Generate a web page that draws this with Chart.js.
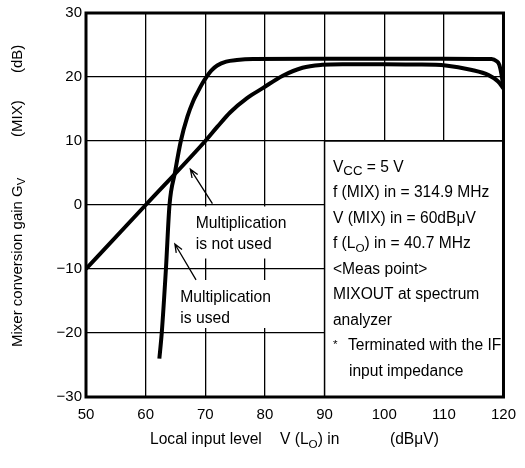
<!DOCTYPE html>
<html>
<head>
<meta charset="utf-8">
<script src="https://cdn.jsdelivr.net/npm/chart.js@4.4.1/dist/chart.umd.min.js"></script>
<style>
  body { margin: 0; background: #fff; }
  #wrap { width: 525px; height: 468px; }
</style>
</head>
<body>
<div id="wrap"><canvas id="mixChart" width="525" height="468"></canvas></div>
<script>
// eixos
const xTicks = [50, 60, 70, 80, 90, 100, 110, 120];
const yTicks = [-30, -20, -10, 0, 10, 20, 30];

// curva "Multiplication is used"
const usedX = [62.3, 62.7, 63.4, 64.0, 64.9, 65.9, 67.0, 68.0, 68.7, 69.5, 70.2, 71.0, 72.0, 73.5, 75.3, 78.0, 90.0, 100.0, 110.0, 118.0, 118.8, 119.3, 119.7, 120.0];
const usedY = [-24.0, -20.0, -10.0, 0.0, 5.0, 10.0, 13.8, 16.3, 17.6, 19.0, 20.0, 21.0, 21.8, 22.4, 22.65, 22.8, 22.85, 22.85, 22.85, 22.8, 22.5, 21.9, 20.2, 18.2];

// curva "Multiplication is not used"
const notUsedX = [50, 60, 70, 72, 74.2, 77, 79.7, 83, 86.3, 89.6, 93, 100, 105, 110.3, 114.7, 117.5, 119.1, 120];
const notUsedY = [-10, 0, 10, 12.2, 14.5, 16.7, 18.3, 20.2, 21.45, 21.9, 22.0, 22.0, 21.95, 21.8, 21.1, 20.3, 19.3, 18.2];

// textos da caixa de condições
const condLines = [
    [{ t: 'V' }, { t: 'CC', sub: 0.85, dy: 3 }, { t: ' = 5 V' }],
    [{ t: 'f (MIX) in = 314.9 MHz' }],
    [{ t: 'V (MIX) in = 60dB\u03BCV' }],
    [{ t: 'f (L' }, { t: 'O', sub: 0.75, dy: 4 }, { t: ') in = 40.7 MHz' }],
    [{ t: '<Meas point>' }],
    [{ t: 'MIXOUT at spectrum' }],
    [{ t: 'analyzer' }],
    [{ t: '*', sub: 0.75, dy: -2 }, { t: 'Terminated with the IF', dx: 15 }],
    [{ t: 'input impedance', dx: 16 }]
];

const FONTE = "'Liberation Sans', Arial, Helvetica, sans-serif";

function pontos(xs, ys) {
    return xs.map((x, i) => ({ x: x, y: ys[i] }));
}

function textoRico(ctx, x, y, partes, tam) {
    let cx = x;
    partes.forEach(p => {
        if (p.dx) cx = x + p.dx;
        ctx.font = (p.sub ? tam * p.sub : tam) + 'px ' + FONTE;
        ctx.fillText(p.t, cx, y + (p.dy || 0));
        cx += ctx.measureText(p.t).width;
    });
}

function seta(ctx, x1, y1, x2, y2) {
    const ang = Math.atan2(y2 - y1, x2 - x1);
    const len = 9, abre = 0.38;
    ctx.beginPath();
    ctx.moveTo(x1, y1);
    ctx.lineTo(x2, y2);
    ctx.moveTo(x2 - len * Math.cos(ang - abre), y2 - len * Math.sin(ang - abre));
    ctx.lineTo(x2, y2);
    ctx.lineTo(x2 - len * Math.cos(ang + abre), y2 - len * Math.sin(ang + abre));
    ctx.stroke();
}

const anotacoes = {
    id: 'anotacoes',
    beforeDatasetsDraw(chart) {
        const ctx = chart.ctx;
        const xs = chart.scales.x, ys = chart.scales.y;
        ctx.save();
        // caixa branca das condições
        const bx = xs.getPixelForValue(90), by = ys.getPixelForValue(10);
        ctx.fillStyle = '#fff';
        ctx.fillRect(bx, by, xs.right - bx, ys.bottom - by);
        ctx.strokeStyle = '#000';
        ctx.lineWidth = 1.5;
        ctx.beginPath();
        ctx.moveTo(bx, ys.bottom);
        ctx.lineTo(bx, by);
        ctx.lineTo(xs.right, by);
        ctx.stroke();
        // fundos brancos dos rótulos
        ctx.fillRect(xs.getPixelForValue(67.6), ys.getPixelForValue(0) + 1.5, 97, 52);
        ctx.fillRect(xs.getPixelForValue(65.0), ys.getPixelForValue(-10) + 11, 105, 48);
        ctx.restore();
    },
    afterDraw(chart) {
        const ctx = chart.ctx;
        const xs = chart.scales.x, ys = chart.scales.y;
        const a = chart.chartArea;
        ctx.save();
        ctx.fillStyle = '#000';
        ctx.strokeStyle = '#000';
        ctx.textBaseline = 'alphabetic';
        ctx.textAlign = 'left';

        // moldura
        ctx.lineWidth = 3;
        ctx.strokeRect(a.left, a.top, a.right - a.left, a.bottom - a.top);

        // rótulos das curvas
        const l1x = xs.getPixelForValue(68.4), l1y = ys.getPixelForValue(-3.6);
        textoRico(ctx, l1x, l1y, [{ t: 'Multiplication' }], 15.7);
        textoRico(ctx, l1x, l1y + 21, [{ t: 'is not used' }], 15.7);
        const l2x = xs.getPixelForValue(65.8), l2y = ys.getPixelForValue(-15.2);
        textoRico(ctx, l2x, l2y, [{ t: 'Multiplication' }], 15.7);
        textoRico(ctx, l2x, l2y + 21, [{ t: 'is used' }], 15.7);

        // setas
        ctx.lineWidth = 1.3;
        seta(ctx, xs.getPixelForValue(71.2), ys.getPixelForValue(0.2), xs.getPixelForValue(67.5), ys.getPixelForValue(5.6));
        seta(ctx, xs.getPixelForValue(68.45), ys.getPixelForValue(-11.7), xs.getPixelForValue(64.9), ys.getPixelForValue(-6.1));

        // condições de medida
        const cx = xs.getPixelForValue(91.4);
        let cy = ys.getPixelForValue(5.16);
        condLines.forEach(linha => {
            textoRico(ctx, cx, cy, linha, 15.6);
            cy += 25.5;
        });

        // título do eixo x
        const tx = 444;
        textoRico(ctx, 150, tx, [{ t: 'Local input level' }], 15.6);
        textoRico(ctx, 280, tx, [{ t: 'V (L' }, { t: 'O', sub: 0.75, dy: 4 }, { t: ') in' }], 15.6);
        textoRico(ctx, 390, tx, [{ t: '(dB\u03BCV)' }], 15.6);

        // título do eixo y
        ctx.translate(22, 347);
        ctx.rotate(-Math.PI / 2);
        textoRico(ctx, 0, 0, [{ t: 'Mixer conversion gain G' }, { t: 'V', sub: 0.75, dy: 3 }], 15);
        textoRico(ctx, 347 - 137, 0, [{ t: '(MIX)' }], 15);
        textoRico(ctx, 347 - 73, 0, [{ t: '(dB)' }], 15);
        ctx.restore();
    }
};

new Chart(document.getElementById('mixChart'), {
    type: 'line',
    data: {
        datasets: [
            {
                label: 'Multiplication is used',
                data: pontos(usedX, usedY),
                borderColor: '#000',
                borderWidth: 4,
                pointRadius: 0,
                cubicInterpolationMode: 'monotone',
                fill: false
            },
            {
                label: 'Multiplication is not used',
                data: pontos(notUsedX, notUsedY),
                borderColor: '#000',
                borderWidth: 4,
                pointRadius: 0,
                cubicInterpolationMode: 'monotone',
                fill: false
            }
        ]
    },
    options: {
        responsive: false,
        animation: false,
        layout: { padding: { top: 13, right: 13, left: 0, bottom: 0 } },
        plugins: {
            legend: { display: false },
            tooltip: { enabled: false }
        },
        scales: {
            x: {
                type: 'linear',
                min: xTicks[0],
                max: xTicks[xTicks.length - 1],
                afterBuildTicks: s => { s.ticks = xTicks.map(v => ({ value: v })); },
                afterFit: s => { s.height = 71; },
                ticks: {
                    color: '#000',
                    font: { family: FONTE, size: 15 },
                    padding: 9,
                    maxRotation: 0
                },
                grid: { color: '#000', lineWidth: 1.3, drawTicks: false },
                border: { display: false }
            },
            y: {
                type: 'linear',
                min: yTicks[0],
                max: yTicks[yTicks.length - 1],
                afterBuildTicks: s => { s.ticks = yTicks.map(v => ({ value: v })); },
                afterFit: s => { s.width = 86; },
                ticks: {
                    color: '#000',
                    font: { family: FONTE, size: 15 },
                    padding: 4,
                    callback: v => v < 0 ? '\u2212' + Math.abs(v) : String(v)
                },
                grid: { color: '#000', lineWidth: 1.3, drawTicks: false },
                border: { display: false }
            }
        }
    },
    plugins: [anotacoes]
});
</script>
</body>
</html>
